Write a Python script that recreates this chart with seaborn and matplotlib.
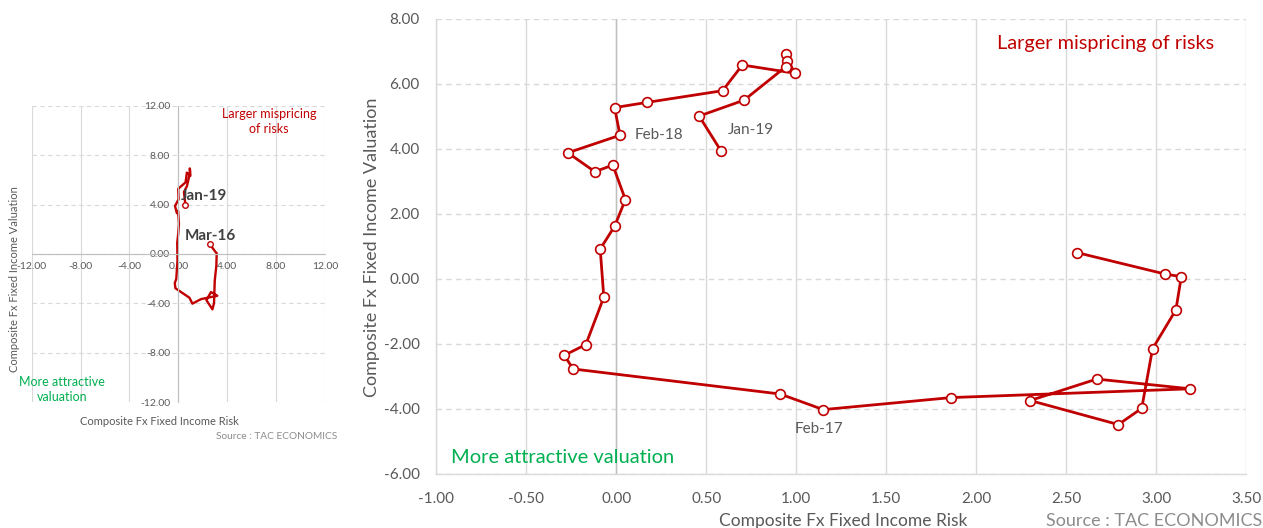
import numpy as np
import pandas as pd
import matplotlib
matplotlib.use("Agg")
import matplotlib.pyplot as plt
import seaborn as sns

# monthly readings, Mar-16 .. Jan-19
months = pd.date_range("2016-03-01", periods=35, freq="MS").strftime("%b-%y").tolist()
risk = [2.56, 3.05, 3.14, 3.11, 2.98, 2.92, 2.79, 2.30, 2.67, 3.19, 1.86, 1.15,
        0.91, -0.24, -0.29, -0.17, -0.07, -0.09, -0.01, 0.05, -0.02, -0.12, -0.27, 0.02,
        -0.01, 0.17, 0.59, 0.70, 0.99, 0.94, 0.95, 0.94, 0.71, 0.46, 0.58]
valuation = [0.81, 0.15, 0.07, -0.95, -2.15, -3.98, -4.48, -3.74, -3.08, -3.38, -3.65, -4.02,
             -3.54, -2.77, -2.35, -2.02, -0.56, 0.92, 1.62, 2.44, 3.50, 3.30, 3.88, 4.42,
             5.27, 5.43, 5.79, 6.58, 6.33, 6.92, 6.70, 6.52, 5.50, 5.01, 3.95]

main_labels = {"Feb-18": (15, 0), "Jan-19": (7, 21), "Feb-17": (-29, -19)}
small_labels = {"Jan-19": (-5, 9), "Mar-16": (-25, 8)}

df = pd.DataFrame({"month": months, "risk": risk, "valuation": valuation})

RED = "#C00000"
GREEN = "#00B050"
GREY = "#595959"
GRID = "#D9D9D9"

sns.set_theme(style="white")
plt.rcParams["font.family"] = ["Lato", "DejaVu Sans"]

fig = plt.figure(figsize=(12.63, 5.28), dpi=100)

# ---------------- small overview chart ----------------
ax1 = fig.add_axes([0.0251, 0.238, 0.2322, 0.562])
sns.lineplot(data=df, x="risk", y="valuation", sort=False, estimator=None,
             color=RED, lw=1.7, ax=ax1)
ends = df[df["month"].isin(small_labels.keys())]
ax1.plot(ends["risk"], ends["valuation"], "o", ms=4, mfc="white", mec=RED, mew=1)
for lab, (dx, dy) in small_labels.items():
    r = df[df["month"] == lab].iloc[0]
    ax1.annotate(lab, xy=(r["risk"], r["valuation"]), xytext=(dx, dy),
                 textcoords="offset pixels", ha="left", va="center",
                 fontsize=11, fontweight="bold", color="#404040")

ax1.set_xlim(-12, 12)
ax1.set_ylim(-12, 12)
ax1.set_xticks(np.arange(-12, 13, 4))
ax1.set_yticks(np.arange(-12, 13, 4))
ax1.xaxis.set_major_formatter(matplotlib.ticker.FormatStrFormatter("%.2f"))
ax1.yaxis.set_major_formatter(matplotlib.ticker.FormatStrFormatter("%.2f"))
ax1.tick_params(length=0, labelsize=7.5, colors=GREY, pad=6)
ax1.grid(axis="x", color=GRID, lw=0.8, ls="-")
ax1.grid(axis="y", color=GRID, lw=0.8, ls=(0, (4, 3)))
for s in ["top", "right"]:
    ax1.spines[s].set_visible(False)
for s in ["left", "bottom"]:
    ax1.spines[s].set_position(("data", 0))
    ax1.spines[s].set_color("#BFBFBF")
    ax1.spines[s].set_linewidth(0.8)
ax1.set_xlabel("")
ax1.set_ylabel("")
ax1.set_facecolor("none")

fig.text(0.2130, 0.7708, "Larger mispricing\nof risks", color=RED, fontsize=9,
         ha="center", va="center", linespacing=1.3)
fig.text(0.0491, 0.2614, "More attractive\nvaluation", color=GREEN, fontsize=9,
         ha="center", va="center", linespacing=1.3)
fig.text(0.0111, 0.4716, "Composite Fx Fixed Income Valuation", rotation=90,
         color=GREY, fontsize=8, ha="center", va="center")
fig.text(0.1259, 0.2008, "Composite Fx Fixed Income Risk", color=GREY,
         fontsize=8, ha="center", va="center")
fig.text(0.2668, 0.1742, "Source : TAC ECONOMICS", color="#8C8C8C",
         fontsize=7.3, ha="right", va="center")

# ---------------- main chart ----------------
ax2 = fig.add_axes([0.3456, 0.1023, 0.641, 0.862])
ax2.axvline(0, color="#BFBFBF", lw=1, zorder=1)
sns.lineplot(data=df, x="risk", y="valuation", sort=False, estimator=None,
             color=RED, lw=2, marker="o", ms=7, mfc="white", mec=RED, mew=1.2,
             ax=ax2, zorder=3)
for lab, (dx, dy) in main_labels.items():
    r = df[df["month"] == lab].iloc[0]
    ax2.annotate(lab, xy=(r["risk"], r["valuation"]), xytext=(dx, dy),
                 textcoords="offset pixels", ha="left", va="center",
                 fontsize=11, color=GREY)

ax2.set_xlim(-1, 3.5)
ax2.set_ylim(-6, 8)
ax2.set_xticks(np.arange(-1, 3.51, 0.5))
ax2.set_yticks(np.arange(-6, 8.01, 2))
ax2.xaxis.set_major_formatter(matplotlib.ticker.FormatStrFormatter("%.2f"))
ax2.yaxis.set_major_formatter(matplotlib.ticker.FormatStrFormatter("%.2f"))
ax2.tick_params(length=0, labelsize=11, colors=GREY)
ax2.tick_params(axis="x", pad=13)
ax2.tick_params(axis="y", pad=12)
ax2.grid(axis="x", color=GRID, lw=1, ls="-")
ax2.grid(axis="y", color=GRID, lw=1, ls=(0, (4, 3)))
ax2.set_axisbelow(True)
for s in ["top", "right"]:
    ax2.spines[s].set_visible(False)
for s in ["left", "bottom"]:
    ax2.spines[s].set_color(GRID)
    ax2.spines[s].set_linewidth(1)
ax2.set_xlabel("")
ax2.set_ylabel("")

fig.text(0.2945, 0.532, "Composite Fx Fixed Income Valuation", rotation=90,
         color=GREY, fontsize=13, ha="center", va="center")
fig.text(0.668, 0.0133, "Composite Fx Fixed Income Risk", color=GREY,
         fontsize=12.5, ha="center", va="center")
fig.text(0.9992, 0.0133, "Source : TAC ECONOMICS", color="#8C8C8C",
         fontsize=13, ha="right", va="center")
fig.text(0.7894, 0.9167, "Larger mispricing of risks", color=RED, fontsize=14.3,
         ha="left", va="center")
fig.text(0.3571, 0.1326, "More attractive valuation", color=GREEN, fontsize=14.5,
         ha="left", va="center")

fig.savefig("out.png", dpi=100)
